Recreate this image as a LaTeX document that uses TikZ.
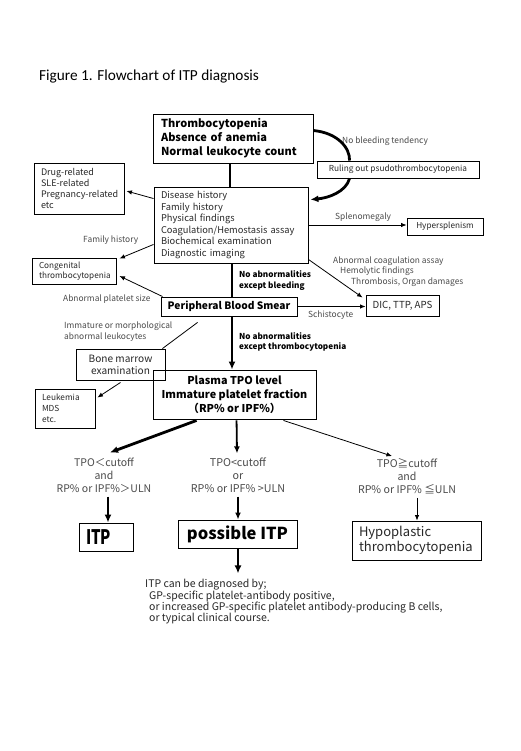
\documentclass[tikz,border=0pt]{standalone}
\usepackage{fontspec}
\setmainfont{Noto Sans CJK JP}
\newfontfamily\titlefont{Carlito}
\usetikzlibrary{arrows.meta,calc}
\definecolor{txt}{RGB}{40,40,40}
\definecolor{lab}{RGB}{75,75,75}
\begin{document}
\begin{tikzpicture}[x=1pt,y=-1pt,
  box/.style={draw, line width=0.9pt, inner sep=0pt, text=txt},
  reg/.style={font=\fontsize{9.3}{11.5}\selectfont},
  boldt/.style={font=\fontsize{11}{14}\selectfont\bfseries, text=black},
  lab/.style={font=\fontsize{8.4}{10.8}\selectfont, text=lab, inner sep=0pt},
  blab/.style={font=\fontsize{8.2}{10.7}\selectfont\bfseries, text=black, inner sep=0pt, align=left, anchor=west},
  thk/.style={line width=2.8pt, -{Latex[length=8pt,width=7pt]}},
  thkl/.style={line width=2.8pt},
  med/.style={line width=1.8pt, -{Latex[length=7pt,width=6pt]}},
  thn/.style={line width=0.8pt, -{Latex[length=5.5pt,width=4.5pt]}},
  thnl/.style={line width=0.8pt}]
\useasboundingbox[fill=white] (0,0) rectangle (520,751);

\node[font=\titlefont\fontsize{15.3}{17}\selectfont, anchor=west, inner sep=0pt] (title) at (39,77) {Figure 1. Flowchart of ITP diagnosis};

% boxes
\node[box, boldt, text width=144pt, minimum width=160pt, minimum height=49pt, align=left] (top) at (233,138.5) {Thrombocytopenia\\Absence of anemia\\Normal leukocyte count};
\node[box, lab, text=txt, font=\fontsize{8.3}{10}\selectfont, minimum width=162pt, minimum height=17pt] (rule) at (398,169.5) {Ruling out psudothrombocytopenia};
\node[box, font=\fontsize{9}{10.8}\selectfont, text width=76pt, minimum width=90pt, minimum height=51pt, align=left] (drug) at (79,188.5) {Drug-related\\SLE-related\\\mbox{Pregnancy-related}\\etc};
\node[box, reg, text width=140pt, minimum width=154pt, minimum height=76pt, align=left] (dis) at (231,225) {Disease history\\Family history\\Physical findings\\Coagulation/Hemostasis assay\\Biochemical examination\\Diagnostic imaging};
\node[box, text=txt, font=\fontsize{8.2}{10}\selectfont, minimum width=76pt, minimum height=17pt] (hyp) at (445,226.5) {Hypersplenism};
\node[box, text=txt, text width=70pt, minimum width=84pt, minimum height=26pt, align=left, font=\fontsize{8.2}{10.5}\selectfont] (cong) at (74,271) {Congenital\\thrombocytopenia};
\node[box, font=\fontsize{10.2}{12}\selectfont\bfseries, text=black, minimum width=136pt, minimum height=19pt] (pbs) at (229,306.5) {Peripheral Blood Smear};
\node[box, font=\fontsize{9.7}{11}\selectfont, minimum width=73pt, minimum height=21pt] (dic) at (402.5,305.5) {DIC, TTP, APS};
\node[box, font=\fontsize{10.1}{12}\selectfont, align=center, minimum width=89pt, minimum height=31pt] (bone) at (120.5,364.5) {Bone marrow\\examination};
\node[box, text=txt, text width=46pt, minimum width=60pt, minimum height=39pt, align=left, font=\fontsize{8.3}{11}\selectfont] (leuk) at (65,408.5) {Leukemia\\MDS\\etc.};
\node[box, font=\fontsize{10.8}{14}\selectfont\bfseries, text=black, align=center, minimum width=163pt, minimum height=49pt] (tpo) at (234.5,394.5) {Plasma TPO level\\Immature platelet fraction\\（RP\% or IPF\%）};

% conditions
\node[lab, align=center, font=\fontsize{10.5}{13}\selectfont] (c1) at (104,475) {TPO＜cutoff\\and\\RP\% or IPF\%＞ULN};
\node[lab, align=center, font=\fontsize{10.7}{13}\selectfont] (c2) at (238,475) {TPO<cutoff\\or\\RP\% or IPF\% >ULN};
\node[lab, align=center, font=\fontsize{10.6}{13}\selectfont] (c3) at (407,476) {TPO≧cutoff\\and\\RP\% or IPF\% ≦ULN};

\node[box, font=\fontsize{20}{22}\selectfont\bfseries, text=black, text width=40pt, align=left, minimum width=54pt, minimum height=28pt] (itp) at (106,537) {\scalebox{0.75}[1]{ITP}};
\node[box, font=\fontsize{16.5}{20}\selectfont\bfseries, text=black, minimum width=119pt, minimum height=28pt] (pitp) at (237.5,534) {possible ITP};
\node[box, font=\fontsize{13}{15}\selectfont, text width=115pt, minimum width=129pt, minimum height=39pt, align=left] (hypo) at (416.5,540.5) {Hypoplastic\\thrombocytopenia};

\node[lab, text=txt, anchor=north west, align=left, font=\fontsize{10.5}{11}\selectfont] (fin) at (145,579) {ITP can be diagnosed by;\\\hspace*{4pt}GP-specific platelet-antibody positive,\\\hspace*{4pt}or increased GP-specific platelet antibody-producing B cells,\\\hspace*{4pt}or typical clinical course.};

% labels
\node[lab, anchor=west] (lnb) at (342,141) {No bleeding tendency};
\node[lab, anchor=west] (lsp) at (335,217) {Splenomegaly};
\node[lab, anchor=west] (lfh) at (83,240) {Family history};
\node[lab, anchor=west] (lac) at (333,261) {Abnormal coagulation assay};
\node[lab, anchor=west] (lhf) at (340,271.5) {Hemolytic findings};
\node[lab, anchor=west] (lto) at (351,282) {Thrombosis, Organ damages};
\node[lab, anchor=west] (lps) at (63,299) {Abnormal platelet size};
\node[lab, anchor=west] (lsc) at (308,315) {Schistocyte};
\node[lab, anchor=west, align=left] (lim) at (64,331.5) {Immature or morphological\\abnormal leukocytes};
\node[blab] (lb1) at (239,280.5) {No abnormalities\\except bleeding};
\node[blab] (lb2) at (239,342) {No abnormalities\\except thrombocytopenia};

% connectors
\draw[thkl] (top.south -| 230,0) -- (dis.north -| 230,0);
\draw[thkl] ($(top.east)+(0,-8)$) .. controls (338,133) and (350,148) .. ($(rule.north west)+(33,0)$);
\draw[thk] ($(rule.south west)+(33,0)$) .. controls (346,192) and (328,198) .. ($(dis.north east)+(2,13)$);
\draw[thn] ($(dis.north west)+(0,12)$) -- ($(drug.east)+(2,2.5)$);
\draw[thn] (dis.east) -- (dis.east -| hyp.west);
\draw[thn] ($(dis.south west)+(0,-19)$) -- ($(cong.north east)+(3,1)$);
\draw[thn] ($(dis.south east)+(0,-4)$) -- ($(dic.north west)+(-3,3)$);
\draw[thkl] (dis.south -| 232,0) -- (pbs.north -| 232,0);
\draw[thn] ($(pbs.north west)+(2,0)$) -- ($(cong.east)+(3,5)$);
\draw[thn] (pbs.east) -- (pbs.east -| dic.west);
\draw[thnl] ($(pbs.south west)+(37,6)$) -- ($(bone.north east)+(-3,0)$);
\draw[thn] ($(bone.south)+(0,2)$) -- ($(leuk.north east)+(2,9)$);
\draw[thk] (pbs.south -| 232,0) -- (tpo.north -| 232,0);
\draw[thk] ($(tpo.south west)+(44,1)$) -- ($(c1.north)+(6,-5)$);
\draw[med] ($(tpo.south west)+(84,1)$) -- ($(c2.north)+(-1,-4)$);
\draw[thn] ($(tpo.south east)+(-33,1)$) -- ($(c3.north)+(-15,-2)$);
\draw[thk] ($(c1.south)+(4,4)$) -- (itp.north -| 108,0);
\draw[med] ($(c2.south)+(0,4)$) -- (pitp.north -| 238,0);
\draw[thn] ($(c3.south)+(10,4)$) -- (hypo.north -| 417,0);
\draw[thk] (pitp.south -| 238,0) -- ($(pitp.south -| 238,0)+(0,25)$);
\end{tikzpicture}
\end{document}
